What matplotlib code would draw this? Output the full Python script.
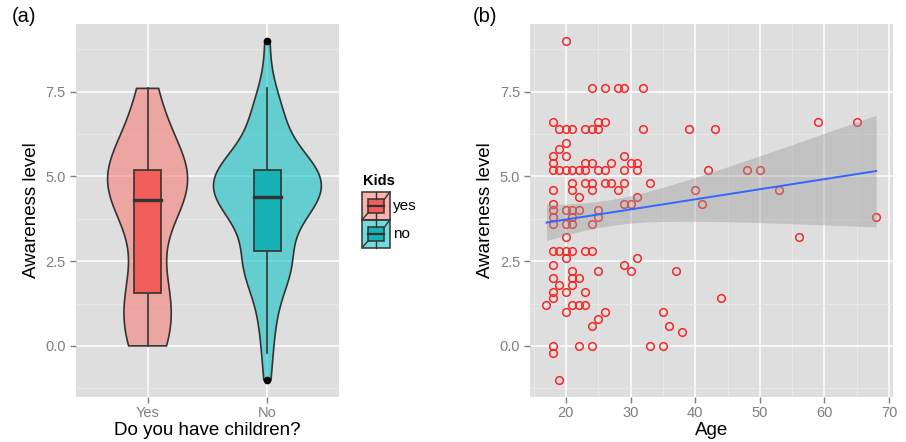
import numpy as np
import matplotlib.pyplot as plt
from matplotlib.patches import Rectangle, Polygon

plt.rcParams['font.family'] = ['Liberation Sans', 'DejaVu Sans']

# panel (a): awareness level split by "Do you have children?"
groups = ['Yes', 'No']
legend_labels = ['yes', 'no']
kids_yes = [0.0, 0.0, 0.0, 0.2, 0.6, 1.0, 1.2, 1.4, 1.6, 1.8, 2.2, 3.2, 3.8, 4.0, 4.2, 4.2,
            4.4, 4.6, 4.8, 4.8, 5.0, 5.2, 5.2, 5.2, 5.2, 5.4, 5.6, 6.0, 6.4, 6.6, 7.4, 7.6]
kids_no = [-1.0, -0.2, 0.4, 0.8, 1.2, 1.6, 1.8, 2.0, 2.2, 2.2, 2.4, 2.4, 2.6, 2.6, 2.8, 2.8,
           3.2, 3.6, 3.6, 3.8, 3.8, 4.0, 4.0, 4.0, 4.2, 4.2, 4.2, 4.4, 4.4, 4.4, 4.4, 4.6,
           4.6, 4.6, 4.8, 4.8, 4.8, 5.0, 5.0, 5.0, 5.2, 5.2, 5.2, 5.2, 5.2, 5.2, 5.4, 5.4,
           5.6, 5.6, 5.8, 6.0, 6.4, 6.6, 6.6, 6.8, 7.0, 7.4, 7.6, 9.0]
violin_colors = ['#F8766D', '#00BFC4']
box_colors = ['#F25F5A', '#17B2B6']

# panel (b): awareness level against age
ages = [20,
        24, 26, 28, 29, 32,
        18, 25, 26, 59, 65,
        19, 20, 21, 23, 24, 25, 32, 39, 43,
        20, 19,
        18, 20, 29,
        18, 23, 24, 27, 30, 31,
        18, 19, 20, 21, 22, 23, 25, 26, 29, 31, 42, 48, 50,
        21, 23, 24, 26, 27, 29, 33,
        18, 21, 24, 28, 40, 53,
        22, 31,
        18, 29, 30, 41,
        18, 20, 21, 22, 25,
        18, 21, 25, 68,
        18, 20, 21, 24,
        20, 56,
        18, 19, 20, 21, 23, 24,
        20, 31,
        18, 29,
        21, 25, 30, 37,
        18, 21, 22,
        19, 21,
        18, 20, 23,
        18, 44,
        17, 21, 22, 23,
        20, 26, 35,
        25,
        24, 36,
        38,
        18, 22, 24, 33, 35,
        18,
        19]
awareness = [9.0,
             7.6, 7.6, 7.6, 7.6, 7.6,
             6.6, 6.6, 6.6, 6.6, 6.6,
             6.4, 6.4, 6.4, 6.4, 6.4, 6.4, 6.4, 6.4, 6.4,
             6.0, 5.8,
             5.6, 5.6, 5.6,
             5.4, 5.4, 5.4, 5.4, 5.4, 5.4,
             5.2, 5.2, 5.2, 5.2, 5.2, 5.2, 5.2, 5.2, 5.2, 5.2, 5.2, 5.2, 5.2,
             4.8, 4.8, 4.8, 4.8, 4.8, 4.8, 4.8,
             4.6, 4.6, 4.6, 4.6, 4.6, 4.6,
             4.4, 4.4,
             4.2, 4.2, 4.2, 4.2,
             4.0, 4.0, 4.0, 4.0, 4.0,
             3.8, 3.8, 3.8, 3.8,
             3.6, 3.6, 3.6, 3.6,
             3.2, 3.2,
             2.8, 2.8, 2.8, 2.8, 2.8, 2.8,
             2.6, 2.6,
             2.4, 2.4,
             2.2, 2.2, 2.2, 2.2,
             2.0, 2.0, 2.0,
             1.8, 1.8,
             1.6, 1.6, 1.6,
             1.4, 1.4,
             1.2, 1.2, 1.2, 1.2,
             1.0, 1.0, 1.0,
             0.8,
             0.6, 0.6,
             0.4,
             0.0, 0.0, 0.0, 0.0, 0.0,
             -0.2,
             -1.0]

BG = '#DEDEDE'
GREY = '#7F7F7F'
DARK = '#333333'


def style_axes(ax):
    ax.set_facecolor(BG)
    for s in ax.spines.values():
        s.set_visible(False)
    ax.grid(True, which='major', color='white', lw=1.1, zorder=0)
    ax.grid(True, which='minor', color='#EAEAEA', lw=0.6, zorder=0)
    ax.set_axisbelow(True)
    ax.tick_params(which='major', length=4, width=1, color=GREY, labelcolor=GREY,
                   labelsize=10.5, pad=3)
    ax.tick_params(which='minor', length=0)
    ax.set_ylim(-1.5, 9.5)
    ax.set_yticks([0, 2.5, 5, 7.5])
    ax.set_yticks([-1.25, 1.25, 3.75, 6.25, 8.75], minor=True)
    ax.set_yticklabels(['0.0', '2.5', '5.0', '7.5'])
    ax.set_ylabel('Awareness level', fontsize=13.5, labelpad=4)


def nrd0(x):
    x = np.asarray(x)
    q1, q3 = np.percentile(x, [25, 75])
    return 0.9 * min(x.std(ddof=1), (q3 - q1) / 1.34) * len(x) ** -0.2


def kde(x, grid):
    x = np.asarray(x)
    bw = nrd0(x)
    z = (grid[:, None] - x[None, :]) / bw
    return np.exp(-0.5 * z ** 2).sum(axis=1) / (len(x) * bw * np.sqrt(2 * np.pi))


fig = plt.figure(figsize=(9.06, 4.42), dpi=100)
W, H = 906, 442
ax1 = fig.add_axes([75.7 / W, 45.3 / H, 263.6 / W, 372.7 / H])
ax2 = fig.add_axes([530 / W, 45.3 / H, 362.7 / W, 372.7 / H])

# ---- panel (a): violins + boxplots
style_axes(ax1)
data = [kids_yes, kids_no]
grids = [np.linspace(min(d), max(d), 512) for d in data]
dens = [kde(d, g) for d, g in zip(data, grids)]
dmax = max(d.max() for d in dens)

for i, (d, g, dn) in enumerate(zip(data, grids, dens)):
    c = i + 1
    hw = 0.45 * dn / dmax
    xs = np.concatenate([c - hw, (c + hw)[::-1]])
    ys = np.concatenate([g, g[::-1]])
    ax1.add_patch(Polygon(np.column_stack([xs, ys]), closed=True, facecolor=violin_colors[i],
                          alpha=0.55, edgecolor='none', zorder=2))
    ax1.add_patch(Polygon(np.column_stack([xs, ys]), closed=True, facecolor='none',
                          edgecolor=DARK, lw=1.2, zorder=3))

    arr = np.asarray(d)
    q1, med, q3 = np.percentile(arr, [25, 50, 75])
    iqr = q3 - q1
    lo = arr[arr >= q1 - 1.5 * iqr].min()
    hi = arr[arr <= q3 + 1.5 * iqr].max()
    out = arr[(arr < lo) | (arr > hi)]
    bw = 0.11
    ax1.plot([c, c], [lo, q1], color=DARK, lw=1.2, zorder=4)
    ax1.plot([c, c], [q3, hi], color=DARK, lw=1.2, zorder=4)
    ax1.add_patch(Rectangle((c - bw, q1), 2 * bw, q3 - q1, facecolor=box_colors[i],
                            edgecolor=DARK, lw=1.2, zorder=4))
    ax1.plot([c - bw, c + bw], [med, med], color=DARK, lw=2.4, zorder=5)
    ax1.plot([c] * len(out), out, 'o', color='black', ms=4.5, zorder=5)

ax1.set_xlim(0.4, 2.6)
ax1.set_xticks([1, 2])
ax1.set_xticklabels(groups)
ax1.set_xlabel('Do you have children?', fontsize=13.5, labelpad=1)

# ---- panel (b): scatter + linear fit
style_axes(ax2)
x = np.asarray(ages, dtype=float)
y = np.asarray(awareness, dtype=float)
ax2.plot(x, y, 'o', mfc='none', mec='#F42828', mew=1.1, ms=5.5, zorder=2)

slope, icpt = np.polyfit(x, y, 1)
xf = np.linspace(x.min(), x.max(), 80)
yf = icpt + slope * xf
n = len(x)
resid = y - (icpt + slope * x)
s = np.sqrt((resid ** 2).sum() / (n - 2))
se = s * np.sqrt(1 / n + (xf - x.mean()) ** 2 / ((x - x.mean()) ** 2).sum())
tq = 1.98
ax2.fill_between(xf, yf - tq * se, yf + tq * se, color='#999999', alpha=0.4,
                 lw=0, zorder=3)
ax2.plot(xf, yf, color='#3366FF', lw=1.4, zorder=4)

ax2.set_xlim(14.45, 70.55)
ax2.set_xticks([20, 30, 40, 50, 60, 70])
ax2.set_xticks([15, 25, 35, 45, 55, 65], minor=True)
ax2.set_xlabel('Age', fontsize=13.5, labelpad=1)

# ---- legend for panel (a)
lax = fig.add_axes([0, 0, 1, 1])
lax.set_xlim(0, W)
lax.set_ylim(H, 0)
lax.axis('off')
lax.text(362.5, 181, 'Kids', fontsize=10.5, fontweight='bold', va='center', ha='left')
for k, lab in enumerate(legend_labels):
    top = 191.7 + 28 * k
    lax.add_patch(Rectangle((362, top), 28, 28, facecolor=violin_colors[k], alpha=0.55,
                            edgecolor='none'))
    lax.add_patch(Rectangle((362, top), 28, 28, facecolor='none', edgecolor=DARK, lw=1.1))
    lax.plot([390, 384.3], [top, top + 7.6], color=DARK, lw=1.0)
    lax.plot([362, 368.3], [top + 28, top + 21], color=DARK, lw=1.0)
    lax.plot([376.3, 376.3], [top, top + 7.6], color=DARK, lw=1.0)
    lax.plot([376.3, 376.3], [top + 21, top + 28], color=DARK, lw=1.0)
    lax.add_patch(Rectangle((368.3, top + 7.6), 16, 13.4, facecolor=box_colors[k],
                            edgecolor=DARK, lw=1.1))
    lax.plot([368.3, 384.3], [top + 14, top + 14], color=DARK, lw=1.6)
    lax.text(393, top + 14.5, lab, fontsize=11, va='center', ha='left')

fig.text(24 / W, 1 - 17 / H, '(a)', fontsize=14.5, ha='center', va='center')
fig.text(485 / W, 1 - 17 / H, '(b)', fontsize=14.5, ha='center', va='center')

fig.savefig('out.png', dpi=100)
